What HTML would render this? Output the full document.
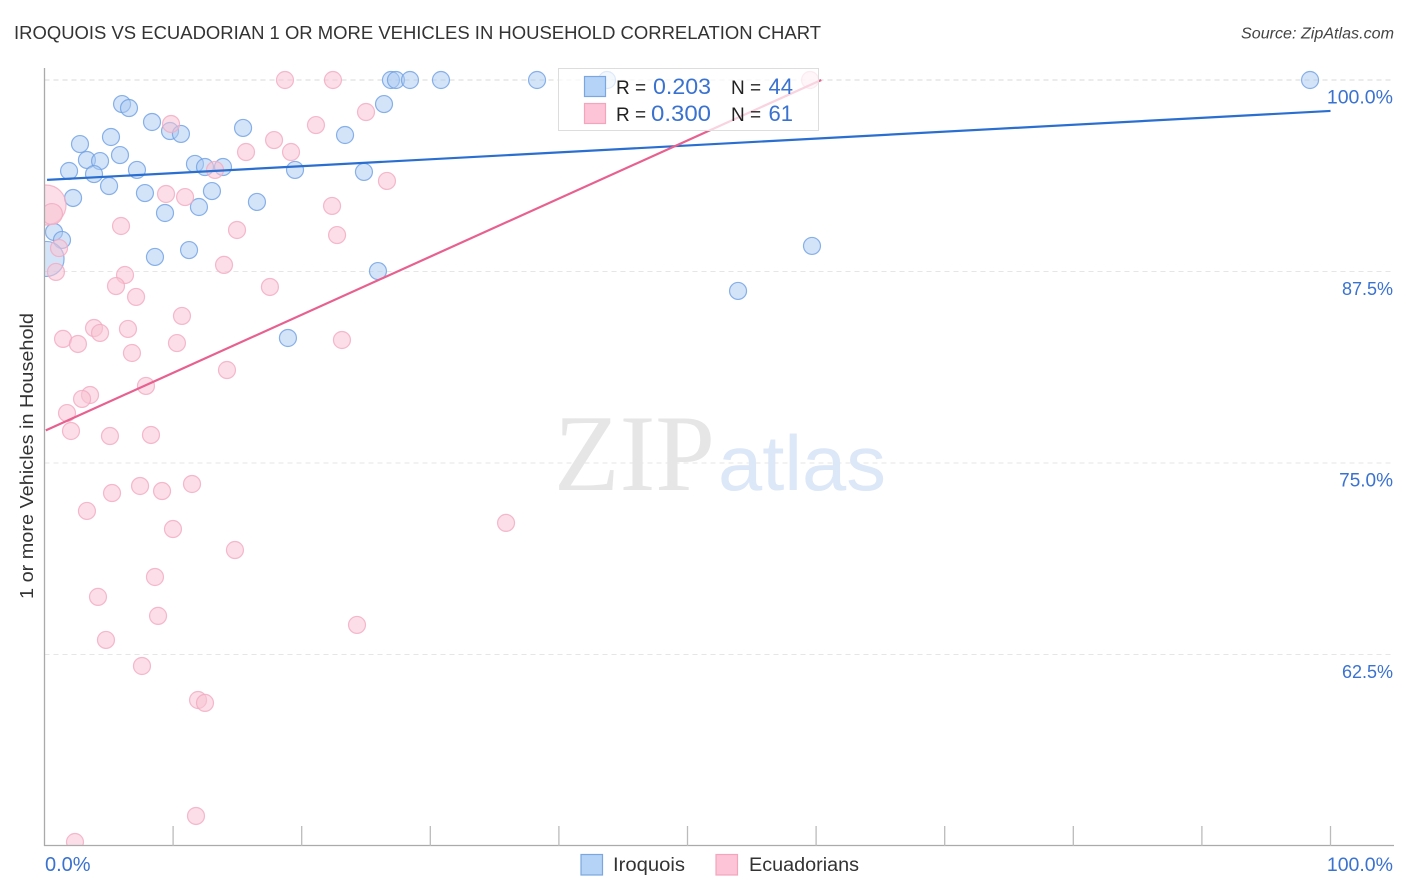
<!DOCTYPE html>
<html lang="en">
<head>
<meta charset="utf-8">
<title>Iroquois vs Ecuadorian 1 or more Vehicles in Household Correlation Chart</title>
<style>
html,body{margin:0;padding:0;background:#fff;}
svg{display:block;font-family:"Liberation Sans",sans-serif;}
</style>
</head>
<body>
<svg id="chart" xmlns="http://www.w3.org/2000/svg" width="1406" height="892" viewBox="0 0 1406 892">
  <defs>
    <clipPath id="plot-clip"><rect x="44.5" y="60" width="1350" height="785.5"/></clipPath>
  </defs>
  <rect x="0" y="0" width="1406" height="892" fill="#fff"/>
  <text x="14" y="39" font-size="18.5" fill="#333" textLength="807" lengthAdjust="spacingAndGlyphs">IROQUOIS VS ECUADORIAN 1 OR MORE VEHICLES IN HOUSEHOLD CORRELATION CHART</text>
  <text x="1241" y="38.5" font-size="15.5" font-style="italic" fill="#444" textLength="153" lengthAdjust="spacingAndGlyphs">Source: ZipAtlas.com</text>
  <g id="grid"></g>
  <g>
    <text x="554" y="490" font-family="'Liberation Serif',serif" font-size="109" fill="#e6e6e6" textLength="161" lengthAdjust="spacingAndGlyphs">ZIP</text>
    <text x="718" y="490" font-size="78" fill="#dce7f8" textLength="168" lengthAdjust="spacingAndGlyphs">atlas</text>
  </g>
  <g id="points" clip-path="url(#plot-clip)"></g>
  <g id="trends"></g>
  <g id="axes">
    <line x1="44.5" y1="68" x2="44.5" y2="846" stroke="#aaa" stroke-width="1.3"/>
    <line x1="44" y1="845.5" x2="1394" y2="845.5" stroke="#aaa" stroke-width="1.3"/>
  </g>
  <text transform="translate(33,456) rotate(-90)" font-size="18.5" fill="#333" text-anchor="middle" textLength="286" lengthAdjust="spacingAndGlyphs">1 or more Vehicles in Household</text>
  <g>
    <rect x="558.5" y="68.5" width="260" height="62" fill="#fff" fill-opacity="0.72" stroke="#ddd" stroke-width="1"/>
    <rect x="584.5" y="76.5" width="21" height="20" fill="#b5d2f7" stroke="#7ba6e0" stroke-width="1.2"/>
    <rect x="584.5" y="103.5" width="21" height="20" fill="#fcc4d6" stroke="#f3a5bd" stroke-width="1.2"/>
    <text x="616" y="94" font-size="19" fill="#222">R =</text>
    <text x="711" y="94" font-size="22" fill="#3a72d0" text-anchor="end" textLength="58" lengthAdjust="spacingAndGlyphs">0.203</text>
    <text x="731" y="94" font-size="19" fill="#222">N =</text>
    <text x="793" y="94" font-size="22" fill="#3a72d0" text-anchor="end">44</text>
    <text x="616" y="121" font-size="19" fill="#222">R =</text>
    <text x="711" y="121" font-size="22" fill="#3a72d0" text-anchor="end" textLength="60" lengthAdjust="spacingAndGlyphs">0.300</text>
    <text x="731" y="121" font-size="19" fill="#222">N =</text>
    <text x="793" y="121" font-size="22" fill="#3a72d0" text-anchor="end">61</text>
  </g>
  <g>
    <rect x="581" y="854.5" width="21.5" height="20.5" fill="#b5d2f7" stroke="#7ba6e0" stroke-width="1.2"/>
    <text x="613" y="871" font-size="19" fill="#333" textLength="72" lengthAdjust="spacingAndGlyphs">Iroquois</text>
    <rect x="716" y="854.5" width="21.5" height="20.5" fill="#fcc4d6" stroke="#f3a5bd" stroke-width="1.2"/>
    <text x="749" y="871" font-size="19" fill="#333" textLength="110" lengthAdjust="spacingAndGlyphs">Ecuadorians</text>
  </g>
</svg>
<script>
const iroquoisX = [6.03,6.57,8.36,9.76,10.61,2.76,5.17,5.87,3.30,4.32,1.91,3.85,5.02,7.19,7.81,9.37,2.22,11.70,12.48,13.88,13.02,12.01,15.44,16.52,19.48,23.37,24.84,26.40,26.94,27.33,28.42,30.83,38.30,43.74,98.41,0.74,1.36,11.24,8.59,25.93,18.93,53.93,59.68,0.16];
const iroquoisY = [98.43,98.17,97.26,96.67,96.48,95.82,96.28,95.10,94.78,94.71,94.06,93.86,93.08,94.13,92.62,91.32,92.30,94.52,94.32,94.32,92.75,91.71,96.87,92.04,94.13,96.41,94.00,98.43,100,100,100,100,100,100,100,90.08,89.56,88.90,88.45,87.53,83.16,86.23,89.17,88.32];
const ecuadoriansX = [18.70,22.43,59.53,9.84,21.11,25.00,17.85,15.67,19.17,13.26,26.63,9.45,10.93,22.36,0.12,0.58,5.95,14.97,22.75,1.13,0.89,13.96,6.26,5.56,17.53,7.12,10.69,3.85,4.32,6.49,1.44,2.60,10.30,23.13,6.80,14.19,7.89,3.54,2.92,1.75,2.06,5.09,8.28,3.30,5.25,7.43,9.14,11.47,9.99,35.89,14.81,8.59,4.16,8.83,4.78,24.30,7.58,11.94,12.48,11.78,2.37];
const ecuadoriansY = [100,100,100,97.13,97.06,97.91,96.08,95.30,95.30,94.13,93.41,92.56,92.36,91.78,91.84,91.25,90.47,90.21,89.88,89.03,87.47,87.93,87.27,86.55,86.49,85.84,84.60,83.81,83.49,83.75,83.10,82.77,82.83,83.03,82.18,81.07,80.03,79.44,79.18,78.26,77.09,76.76,76.83,71.87,73.04,73.50,73.17,73.63,70.69,71.09,69.32,67.56,66.26,65.02,63.45,64.43,61.75,59.53,59.34,51.96,50.26];
const iroquoisLargestIndex = 43;
const ecuadoriansLargestIndex = 14;
const ecuadoriansSecondLargestIndex = 15;
const iroquoisTrendX = [0.2, 100];
const iroquoisTrendY = [93.48, 97.98];
const ecuadoriansTrendX = [0.1, 60.4];
const ecuadoriansTrendY = [77.13, 100];
const yTickValues = [100, 87.5, 75, 62.5];
const yTickLabels = ['100.0%', '87.5%', '75.0%', '62.5%'];
const xTickValues = [10, 20, 30, 40, 50, 60, 70, 80, 90, 100];
const xEndValues = [0, 100];
const xEndLabels = ['0.0%', '100.0%'];

const NS = 'http://www.w3.org/2000/svg';
function xScale(v) { return 44.5 + v * 12.86; }
function yScale(v) { return 80 + (100 - v) * 15.32; }
function labelFontSize(label) {
  if (label === '0.0%') return 20;
  if (label === '100.0%') return 19.5;
  if (label === '75.0%') return 19;
  return 18;
}
function make(tag, parent, attrs) {
  const el = document.createElementNS(NS, tag);
  for (const k in attrs) el.setAttribute(k, attrs[k]);
  parent.appendChild(el);
  return el;
}

const gridG = document.getElementById('grid');
const axesG = document.getElementById('axes');
const pointsG = document.getElementById('points');
const trendsG = document.getElementById('trends');

yTickValues.forEach(function (v, i) {
  const gl = make('line', gridG, {x1: 44.5, x2: 1394, y1: yScale(v), y2: yScale(v), stroke: i === 0 ? '#d8d8d8' : '#e6e6e6', 'stroke-width': 1, 'stroke-dasharray': '5 4'});
  
  
  const tl = make('text', axesG, {x: 1393, y: yScale(v) + 23.5, 'font-size': labelFontSize(yTickLabels[i]), fill: '#3a72d0', 'text-anchor': 'end'});
  tl.textContent = yTickLabels[i];
  
  
});

xTickValues.forEach(function (v) {
  const t = make('line', axesG, {x1: xScale(v), x2: xScale(v), y1: 826, y2: 846, stroke: '#bbb', 'stroke-width': 1.3});
  
  
});

xEndValues.forEach(function (v, i) {
  const t = make('text', axesG, {x: i === 0 ? xScale(v) + 0.5 : 1393, y: 871, 'font-size': labelFontSize(xEndLabels[i]), fill: '#3a72d0', 'text-anchor': i === 0 ? 'start' : 'end'});
  t.textContent = xEndLabels[i];
  
  
});

iroquoisX.forEach(function (v, i) {
  const c = make('circle', pointsG, {cx: xScale(v), cy: yScale(iroquoisY[i]), r: i === iroquoisLargestIndex ? 17.5 : 8.5, fill: '#a9c9f2', 'fill-opacity': 0.5, stroke: '#6d9fe3', 'stroke-opacity': 0.8, 'stroke-width': 1.2});
  
  
});

ecuadoriansX.forEach(function (v, i) {
  const radius = i === ecuadoriansLargestIndex ? 20 : (i === ecuadoriansSecondLargestIndex ? 10.5 : 8.5);
  const c = make('circle', pointsG, {cx: xScale(v), cy: yScale(ecuadoriansY[i]), r: radius, fill: '#f8c3d4', 'fill-opacity': 0.55, stroke: '#f2a9c0', 'stroke-opacity': 0.8, 'stroke-width': 1.2});
  
  
});

const iroquoisTrend = make('line', trendsG, {x1: xScale(iroquoisTrendX[0]), y1: yScale(iroquoisTrendY[0]), x2: xScale(iroquoisTrendX[1]), y2: yScale(iroquoisTrendY[1]), stroke: '#2a6fd0', 'stroke-width': 2.2});


const ecuadoriansTrend = make('line', trendsG, {x1: xScale(ecuadoriansTrendX[0]), y1: yScale(ecuadoriansTrendY[0]), x2: xScale(ecuadoriansTrendX[1]), y2: yScale(ecuadoriansTrendY[1]), stroke: '#e8608f', 'stroke-width': 2.2});


</script>
</body>
</html>
